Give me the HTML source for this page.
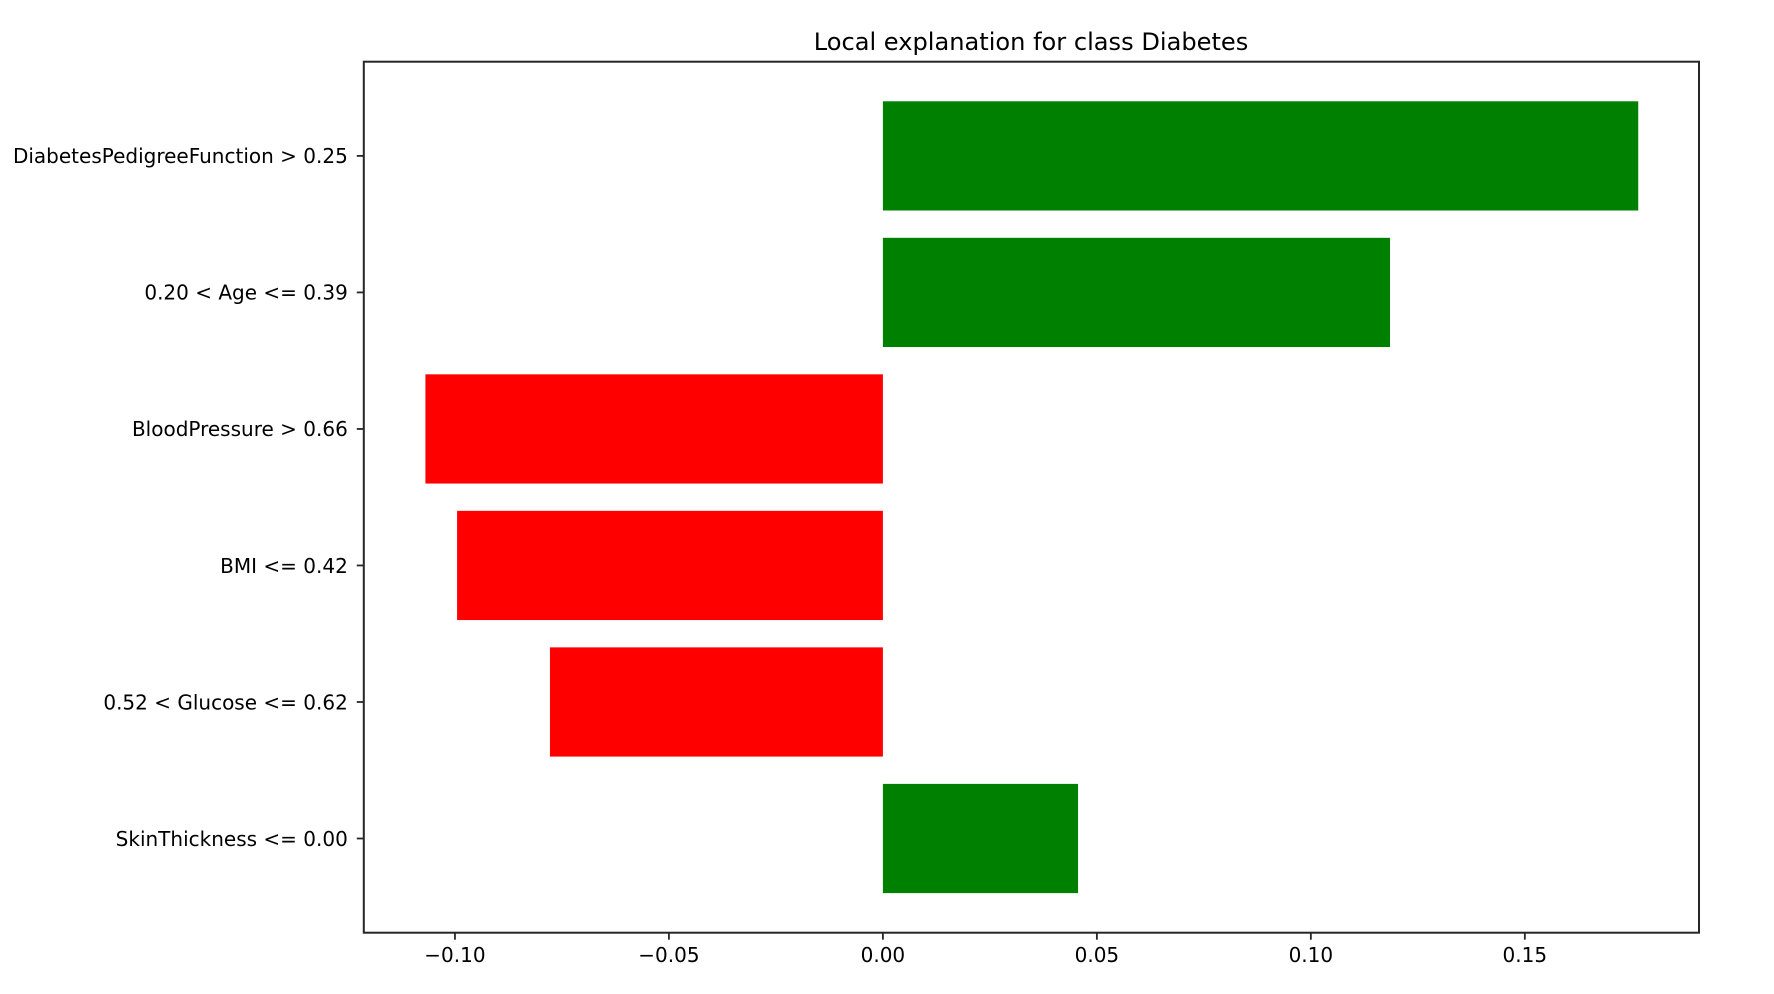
<!DOCTYPE html>
<html><head><meta charset="utf-8"><style>
html,body{margin:0;padding:0;background:#fff;}
svg{display:block;}
text{font-family:"DejaVu Sans","Liberation Sans",sans-serif;fill:#000;}
</style></head><body>
<svg id="chart" width="1774" height="994" viewBox="0 0 1774 994" xmlns="http://www.w3.org/2000/svg">
<text x="1031" y="50" font-size="24.1" text-anchor="middle">Local explanation for class Diabetes</text>
<g id="bars"></g>
<g id="yaxis"></g>
<g id="xaxis"></g>
<rect x="363.8" y="61.7" width="1335.2" height="871" fill="none" stroke="#262626" stroke-width="2"/>
</svg>
<script>
const categories = ["DiabetesPedigreeFunction > 0.25","0.20 < Age <= 0.39","BloodPressure > 0.66","BMI <= 0.42","0.52 < Glucose <= 0.62","SkinThickness <= 0.00"];
const values = [0.1765, 0.1185, -0.1069, -0.0995, -0.0778, 0.0456];
const xTicks = [-0.10, -0.05, 0.00, 0.05, 0.10, 0.15];
const xTickLabels = ["\u22120.10","\u22120.05","0.00","0.05","0.10","0.15"];

const NS = "http://www.w3.org/2000/svg";
const L = 363.8, R = 1699, T = 61.7, B = 932.7;
const xMin = -0.1213, xMax = 0.1907;
const n = categories.length;
const yMin = -0.4 - 0.29, yMax = (n - 1) + 0.4 + 0.29;
function xs(v){ return L + (v - xMin) / (xMax - xMin) * (R - L); }
function ys(i){ const pos = (n - 1 - i); return B - (pos - yMin) / (yMax - yMin) * (B - T); }
const unit = (B - T) / (yMax - yMin);

const bars = document.getElementById('bars');
values.forEach((v, i) => {
  const r = document.createElementNS(NS, 'rect');
  
  
  const x0 = xs(0), x1 = xs(v);
  r.setAttribute('x', Math.min(x0, x1));
  r.setAttribute('width', Math.abs(x1 - x0));
  r.setAttribute('y', ys(i) - 0.4 * unit);
  r.setAttribute('height', 0.8 * unit);
  r.setAttribute('fill', v >= 0 ? '#008000' : '#ff0000');
  bars.appendChild(r);
});

const ya = document.getElementById('yaxis');
categories.forEach((c, i) => {
  const y = ys(i);
  const tk = document.createElementNS(NS, 'line');
  
  
  tk.setAttribute('x1', L); tk.setAttribute('x2', L - 7);
  tk.setAttribute('y1', y); tk.setAttribute('y2', y);
  tk.setAttribute('stroke', '#262626'); tk.setAttribute('stroke-width', '1.8');
  ya.appendChild(tk);
  const t = document.createElementNS(NS, 'text');
  
  
  t.setAttribute('x', L - 16); t.setAttribute('y', y + 7.3);
  t.setAttribute('font-size', '20');
  t.setAttribute('text-anchor', 'end');
  t.textContent = c;
  ya.appendChild(t);
});

const xa = document.getElementById('xaxis');
xTicks.forEach((v, i) => {
  const x = xs(v);
  const tk = document.createElementNS(NS, 'line');
  
  
  tk.setAttribute('x1', x); tk.setAttribute('x2', x);
  tk.setAttribute('y1', B); tk.setAttribute('y2', B + 7);
  tk.setAttribute('stroke', '#262626'); tk.setAttribute('stroke-width', '1.8');
  xa.appendChild(tk);
  const t = document.createElementNS(NS, 'text');
  
  
  t.setAttribute('x', x); t.setAttribute('y', 962);
  t.setAttribute('font-size', '20');
  t.setAttribute('text-anchor', 'middle');
  t.textContent = xTickLabels[i];
  xa.appendChild(t);
});
</script>
</body></html>
